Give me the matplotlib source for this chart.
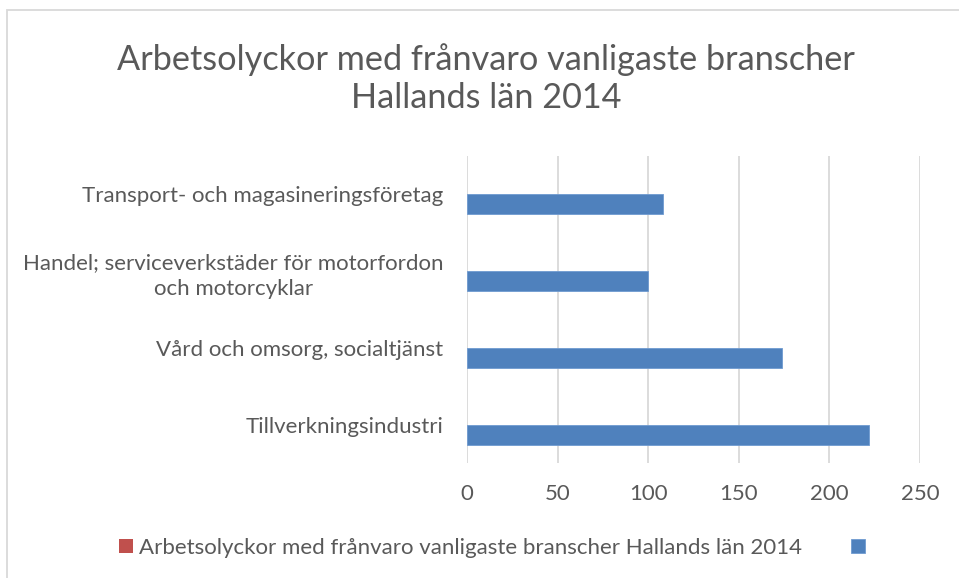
import matplotlib
matplotlib.use("Agg")
import matplotlib.pyplot as plt
from matplotlib.patches import Rectangle

# Data (first category at the bottom, as in the Excel chart)
categories = [
    "Tillverkningsindustri",
    "Vård och omsorg, socialtjänst",
    "Handel; serviceverkstäder för motorfordon\noch motorcyklar",
    "Transport- och magasineringsföretag",
]
red_values = [0, 0, 0, 0]
blue_values = [222, 174, 100, 108]
x_ticks = [0, 50, 100, 150, 200, 250]

title = "Arbetsolyckor med frånvaro vanligaste branscher\nHallands län 2014"
legend_label = "Arbetsolyckor med frånvaro vanligaste branscher Hallands län 2014"

plt.rcParams['font.family'] = ['Lato', 'DejaVu Sans']
text_col = '#595959'

fig = plt.figure(figsize=(9.59, 5.78), dpi=100)
ax = fig.add_axes([0.4870, 0.199, 0.4724, 0.5316])

# chart border (only top and left visible in the reference)
fig.patches.append(Rectangle((7 / 959, -0.1), 1.2, (578 - 10.5) / 578 + 0.1,
                             transform=fig.transFigure, fill=False,
                             edgecolor='#D9D9D9', linewidth=1.3))

y = list(range(len(categories)))
bh = 0.26
red = ax.barh([v + bh / 2 for v in y], red_values, height=bh, color='#C0504D')
blue = ax.barh([v - bh / 2 for v in y], blue_values, height=bh, color='#4F81BD',
               edgecolor='#6F9AD0', linewidth=0.6)

ax.set_xlim(0, 250)
ax.set_ylim(-0.5, len(categories) - 0.5)
ax.set_xticks(x_ticks)
ax.set_yticks(y)
ax.set_yticklabels(categories, multialignment='center', linespacing=1.35)
ax.tick_params(axis='x', length=0, pad=15, labelsize=16, labelcolor=text_col)
ax.tick_params(axis='y', length=0, pad=17, labelsize=16, labelcolor=text_col)
for s in ax.spines.values():
    s.set_visible(False)
ax.grid(axis='x', color='#D9D9D9', linewidth=1.3)
ax.set_axisbelow(True)

fig.text(0.507, 0.864, title, ha='center', va='center', fontsize=24.7,
         color=text_col, linespacing=1.26)

fig.legend([red, blue], [legend_label, ""], loc='center', ncol=2,
           bbox_to_anchor=(0.5165, 0.052), frameon=False, fontsize=16,
           labelcolor=text_col, handlelength=0.6, handleheight=0.6,
           handletextpad=0.3, columnspacing=2.2)

fig.savefig("out.png", dpi=100)
